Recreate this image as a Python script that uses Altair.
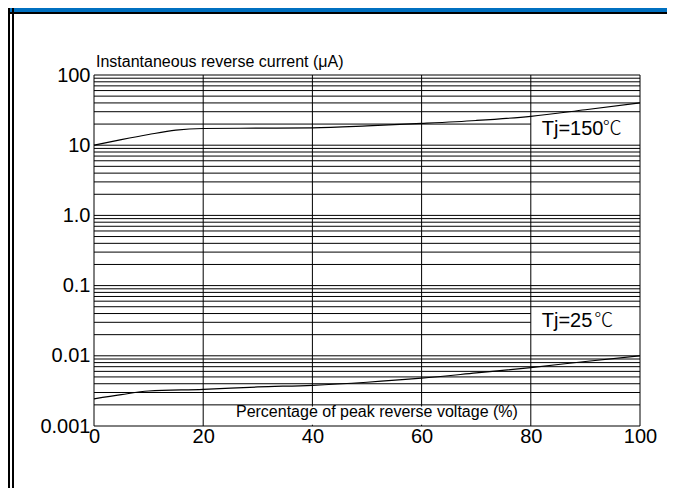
import altair as alt
import pandas as pd

# ---- data ----
pct_150 = [0, 5, 10, 15, 20, 30, 40, 50, 60, 70, 80, 90, 100]
cur_150 = [10.0, 12.0, 14.2, 16.4, 17.3, 17.5, 17.7, 18.8, 20.4, 22.5, 25.8, 32.0, 40.0]

pct_25 = [0, 5, 10, 20, 30, 40, 50, 60, 70, 80, 90, 100]
cur_25 = [0.00244, 0.0028, 0.00315, 0.00332, 0.0036, 0.0038, 0.0042, 0.0048, 0.0057, 0.0068, 0.0083, 0.0100]

x_ticks = [0, 20, 40, 60, 80, 100]
y_major = [0.001, 0.01, 0.1, 1, 10, 100]
y_labels = ["0.001", "0.01", "0.1", "1.0", "10", "100"]
y_minor = [m * 10.0 ** e for e in range(-3, 2) for m in range(1, 10)] + [100]

ann_text = ["Tj=150", "Tj=25"]
ann_x = [82, 82]
ann_y = [14.2, 0.0254]
deg_text = ["℃", "℃"]
deg_x = [93.2, 91.6]

x_title = "Percentage of peak reverse voltage (%)"
y_title = "Instantaneous reverse current (μA)"

FONT = "Liberation Sans"
CJK = "Noto Sans CJK SC"
W, H = 546, 351

xs = alt.Scale(domain=[0, 100], nice=False, zero=False)
ys = alt.Scale(type="log", domain=[0.001, 100], nice=False)

label_expr = " : ".join(
    f"abs(datum.value - {v}) < {v} * 0.01 ? '{l}'" for v, l in zip(y_major, y_labels)
) + " : ''"

x_axis = alt.Axis(values=x_ticks, title=None, ticks=False, tickSize=0, domain=False,
                  grid=False, labelPadding=0, labelFontSize=20, labelFont=FONT,
                  labelColor="black", labelFlush=False)
y_axis = alt.Axis(values=y_major, title=None, ticks=False, tickSize=0, domain=False,
                  grid=False, labelPadding=4, labelFontSize=20, labelFont=FONT,
                  labelColor="black", labelExpr=label_expr, labelBaseline="middle")


def X(f):
    return alt.X(f, scale=xs, axis=x_axis)


def Y(f):
    return alt.Y(f, scale=ys, axis=y_axis)


df150 = pd.DataFrame({"x": pct_150, "y": cur_150})
df25 = pd.DataFrame({"x": pct_25, "y": cur_25})
dfh = pd.DataFrame({"y": y_minor})
dfv = pd.DataFrame({"x": x_ticks})
dfann = pd.DataFrame({"t": ann_text, "x": ann_x, "y": ann_y})
dfdeg = pd.DataFrame({"t": deg_text, "x": deg_x, "y": ann_y})
dummy = pd.DataFrame({"a": [0]})

hgrid = alt.Chart(dfh).mark_rule(color="black", strokeWidth=1).encode(y=Y("y:Q"))

boxes = alt.Chart(pd.DataFrame({
    "x": [80, 80], "x2": [100, 100], "y": [10.4, 0.0209], "y2": [28.8, 0.0482]
})).mark_rect(color="white").encode(x=X("x:Q"), x2="x2", y=Y("y:Q"), y2="y2")

vgrid = alt.Chart(dfv).mark_rule(color="black", strokeWidth=1).encode(x=X("x:Q"))

tbox = alt.Chart(pd.DataFrame({"x": [23], "x2": [79], "y": [0.00104], "y2": [0.0019]})).mark_rect(
    color="white").encode(x=X("x:Q"), x2="x2", y=Y("y:Q"), y2="y2")

c150 = alt.Chart(df150).mark_line(color="black", strokeWidth=1.2, interpolate="monotone").encode(
    x=X("x:Q"), y=Y("y:Q"))
c25 = alt.Chart(df25).mark_line(color="black", strokeWidth=1.2, interpolate="monotone").encode(
    x=X("x:Q"), y=Y("y:Q"))

ann = alt.Chart(dfann).mark_text(align="left", baseline="alphabetic", fontSize=20,
                                 font=FONT, color="black").encode(
    x=X("x:Q"), y=Y("y:Q"), text="t:N")
deg = alt.Chart(dfdeg).mark_text(align="left", baseline="alphabetic", fontSize=19,
                                 font=CJK, fontWeight=300, color="black").encode(
    x=X("x:Q"), y=Y("y:Q"), text="t:N")

xt = alt.Chart(pd.DataFrame({"x": [26], "y": [0.001356], "t": [x_title]})).mark_text(
    align="left", baseline="alphabetic", fontSize=16, font=FONT, color="black").encode(
    x=X("x:Q"), y=Y("y:Q"), text="t:N")

yt = alt.Chart(pd.DataFrame({"t": [y_title]})).mark_text(
    align="left", baseline="alphabetic", fontSize=16, font=FONT, color="black").encode(
    x=alt.value(2), y=alt.value(-8), text="t:N")

# page frame decorations
blue_bar = alt.Chart(dummy).mark_rect(color="#0070C0").encode(
    x=alt.value(-86), x2=alt.value(W + 27), y=alt.value(-67), y2=alt.value(-63))
black_bar = alt.Chart(dummy).mark_rect(color="black").encode(
    x=alt.value(-86), x2=alt.value(W + 27), y=alt.value(-63), y2=alt.value(-61))
left1 = alt.Chart(dummy).mark_rect(color="black").encode(
    x=alt.value(-86), x2=alt.value(-84), y=alt.value(-67), y2=alt.value(H + 62))
left2 = alt.Chart(dummy).mark_rect(color="black").encode(
    x=alt.value(-82), x2=alt.value(-80), y=alt.value(-67), y2=alt.value(H + 62))

chart = alt.layer(
    hgrid, boxes, vgrid, tbox, c150, c25, ann, deg, xt, yt, blue_bar, black_bar, left1, left2
).properties(
    width=W, height=H,
    padding={"left": 86, "top": 67, "right": 27, "bottom": 62},
    autosize=alt.AutoSizeParams(type="none"),
    background="white",
).configure_view(stroke=None)

chart.save("out.html", embed_options={"renderer": "svg", "actions": False})
